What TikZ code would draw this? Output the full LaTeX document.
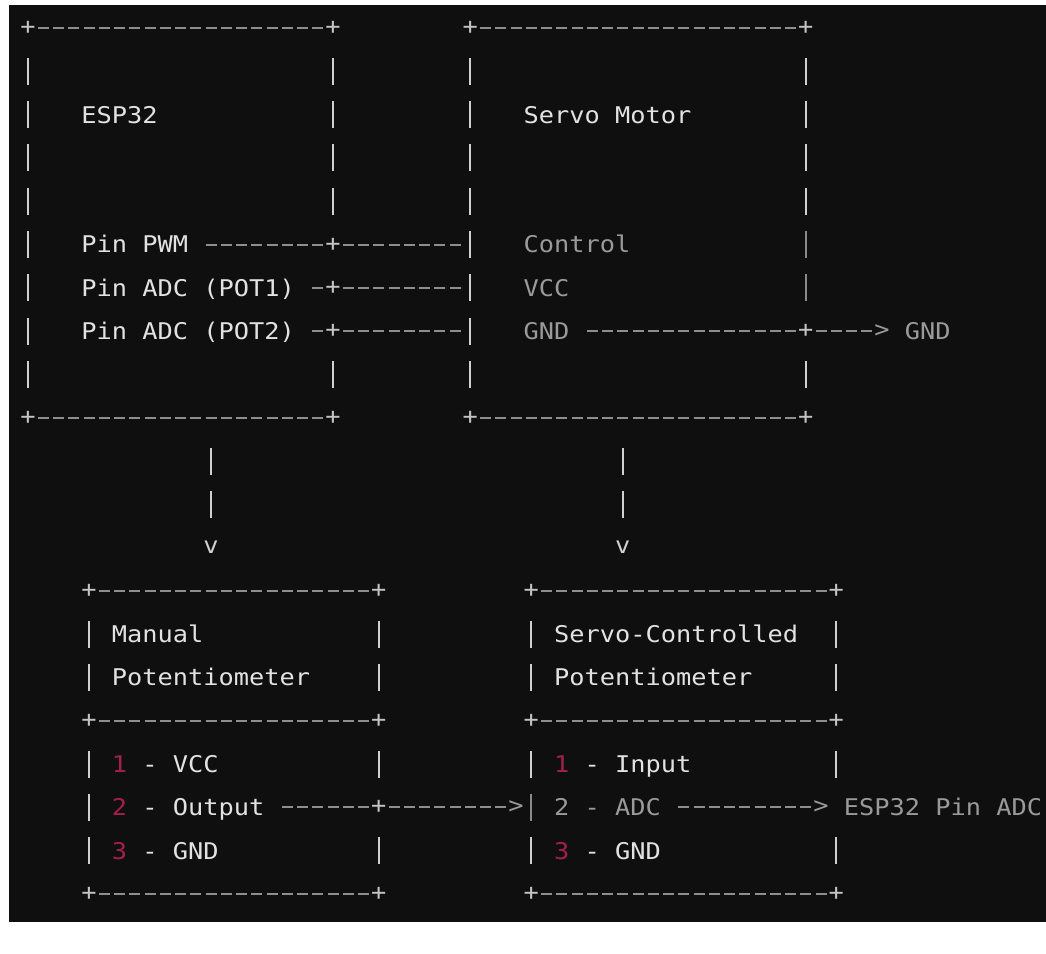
\documentclass[tikz,border=0pt]{standalone}
\usepackage{fontspec}
\newfontfamily\tfont{DejaVu Sans Mono}[FakeStretch=1.1013]
\newcommand\msp{\hspace*{15.25pt}}
\definecolor{bgc}{HTML}{0F0F0F}
\definecolor{hic}{HTML}{E2E2E2}
\definecolor{loc}{HTML}{9A9A9A}
\definecolor{barc}{HTML}{D0D0D0}
\definecolor{dbarc}{HTML}{8A8A8A}
\definecolor{dashc}{HTML}{8E8E8E}
\definecolor{plusc}{HTML}{C4C4C4}
\definecolor{numc}{HTML}{A3204C}
\tikzset{
  mono/.style={font=\tfont\fontsize{23}{28}\selectfont, inner sep=0pt, outer sep=0pt},
  txt/.style={mono, anchor=base west, yshift=-8.4pt, text=hic},
  dimtxt/.style={txt, text=loc},
  numtxt/.style={txt, text=numc},
  glyph/.style={mono, anchor=center, text=plusc},
  dimglyph/.style={glyph, text=loc},
  bar/.style={rectangle, fill=barc, minimum width=2.4pt, minimum height=27pt, inner sep=0pt, outer sep=0pt},
  dimbar/.style={bar, fill=dbarc},
  dsh/.style={draw=dashc, line width=2pt, dash pattern=on 11pt off 4.25pt},
}
\begin{document}
\begin{tikzpicture}[x=15.25pt,y=-43.3pt]
\fill[white] (-1.83607,-0.64665) rectangle (66.7541,21.3626);
\useasboundingbox (-1.83607,-0.64665) rectangle (66.7541,21.3626);
\fill[bgc] (-1.2459,-0.5312) rectangle (66.7541,20.6467);

% ---------------- ESP32 box
\node[glyph] (etl) at (0,0) {+};
\node[glyph] (etr) at (20,0) {+};
\node[glyph] (ebl) at (0,9) {+};
\node[glyph] (ebr) at (20,9) {+};
\foreach \r in {1,...,8} \node[bar] (el\r) at (0,\r) {};
\foreach \r in {1,2,3,4,8} \node[bar] (er\r) at (20,\r) {};
\foreach \r in {5,6,7} \node[glyph] (ej\r) at (20,\r) {+};
\draw[dsh] ([xshift=9.75pt]etl.center) -- ([xshift=-9.75pt]etr.center);
\draw[dsh] ([xshift=9.75pt]ebl.center) -- ([xshift=-9.75pt]ebr.center);
\node[txt] (esp) at (3.5,2) {ESP32};
\node[txt] (pwm) at (3.5,5) {Pin\msp PWM};
\node[txt] (pot1) at (3.5,6) {Pin\msp ADC\msp (POT1)};
\node[txt] (pot2) at (3.5,7) {Pin\msp ADC\msp (POT2)};

% ---------------- Servo box
\node[glyph] (stl) at (29,0) {+};
\node[glyph] (str) at (51,0) {+};
\node[glyph] (sbl) at (29,9) {+};
\node[glyph] (sbr) at (51,9) {+};
\foreach \r in {1,...,8} \node[bar] (sl\r) at (29,\r) {};
\foreach \r in {1,2,3,4,8} \node[bar] (sr\r) at (51,\r) {};
\foreach \r in {5,6} \node[dimbar] (sr\r) at (51,\r) {};
\node[glyph] (sj7) at (51,7) {+};
\draw[dsh] ([xshift=9.75pt]stl.center) -- ([xshift=-9.75pt]str.center);
\draw[dsh] ([xshift=9.75pt]sbl.center) -- ([xshift=-9.75pt]sbr.center);
\node[txt] (servo) at (32.5,2) {Servo\msp Motor};
\node[dimtxt] (ctrl) at (32.5,5) {Control};
\node[dimtxt] (vcc) at (32.5,6) {VCC};
\node[dimtxt] (gnd) at (32.5,7) {GND};
\node[dimglyph] (gndarr) at (56,7) {>};
\node[dimtxt] (gndout) at (57.5,7) {GND};

% ---------------- wires between ESP32 and servo
\coordinate (pwmS) at (11.6393,5);
\draw[dsh] (pwmS) -- ([xshift=-9.75pt]ej5.center);
\draw[dsh] ([xshift=9.75pt]ej5.center) -- ([xshift=-9.75pt]sl5.center);
\coordinate (p1S) at (18.6393,6);
\draw[dsh] (p1S) -- ([xshift=-9.75pt]ej6.center);
\draw[dsh] ([xshift=9.75pt]ej6.center) -- ([xshift=-9.75pt]sl6.center);
\coordinate (p2S) at (18.6393,7);
\draw[dsh] (p2S) -- ([xshift=-9.75pt]ej7.center);
\draw[dsh] ([xshift=9.75pt]ej7.center) -- ([xshift=-9.75pt]sl7.center);
\coordinate (gS) at (36.6393,7);
\draw[dsh] (gS) -- ([xshift=-9.75pt]sj7.center);
\draw[dsh] ([xshift=9.75pt]sj7.center) -- ([xshift=-9.75pt]gndarr.center);

% ---------------- down arrows
\node[bar] (da1) at (12,10) {};
\node[bar] (da2) at (12,11) {};
\node[glyph, text=barc] (dav) at (12,12) {v};
\node[bar] (db1) at (39,10) {};
\node[bar] (db2) at (39,11) {};
\node[glyph, text=barc] (dbv) at (39,12) {v};

% ---------------- Manual potentiometer box
\node[glyph] (mtl) at (4,13) {+};
\node[glyph] (mtr) at (23,13) {+};
\node[glyph] (mml) at (4,16) {+};
\node[glyph] (mmr) at (23,16) {+};
\node[glyph] (mbl) at (4,20) {+};
\node[glyph] (mbr) at (23,20) {+};
\foreach \r in {14,15,17,18,19} \node[bar] (ml\r) at (4,\r) {};
\foreach \r in {14,15,17,19} \node[bar] (mr\r) at (23,\r) {};
\node[glyph] (mj18) at (23,18) {+};
\draw[dsh] ([xshift=9.75pt]mtl.center) -- ([xshift=-9.75pt]mtr.center);
\draw[dsh] ([xshift=9.75pt]mml.center) -- ([xshift=-9.75pt]mmr.center);
\draw[dsh] ([xshift=9.75pt]mbl.center) -- ([xshift=-9.75pt]mbr.center);
\node[txt] (man) at (5.5,14) {Manual};
\node[txt] (manp) at (5.5,15) {Potentiometer};
\node[numtxt] (mn1) at (5.5,17) {1};
\node[txt] (mvcc) at (7.5,17) {-\msp VCC};
\node[numtxt] (mn2) at (5.5,18) {2};
\node[txt] (mout) at (7.5,18) {-\msp Output};
\node[numtxt] (mn3) at (5.5,19) {3};
\node[txt] (mgnd) at (7.5,19) {-\msp GND};

% ---------------- Servo-controlled potentiometer box
\node[glyph] (ptl) at (33,13) {+};
\node[glyph] (ptr) at (53,13) {+};
\node[glyph] (pml) at (33,16) {+};
\node[glyph] (pmr) at (53,16) {+};
\node[glyph] (pbl) at (33,20) {+};
\node[glyph] (pbr) at (53,20) {+};
\foreach \r in {14,15,17,19} \node[bar] (pl\r) at (33,\r) {};
\node[dimbar] (pl18) at (33,18) {};
\foreach \r in {14,15,17,19} \node[bar] (pr\r) at (53,\r) {};
\draw[dsh] ([xshift=9.75pt]ptl.center) -- ([xshift=-9.75pt]ptr.center);
\draw[dsh] ([xshift=9.75pt]pml.center) -- ([xshift=-9.75pt]pmr.center);
\draw[dsh] ([xshift=9.75pt]pbl.center) -- ([xshift=-9.75pt]pbr.center);
\node[txt] (sc) at (34.5,14) {Servo-Controlled};
\node[txt] (scp) at (34.5,15) {Potentiometer};
\node[numtxt] (pn1) at (34.5,17) {1};
\node[txt] (pin) at (36.5,17) {-\msp Input};
\node[dimtxt] (padc) at (34.5,18) {2\msp -\msp ADC};
\node[numtxt] (pn3) at (34.5,19) {3};
\node[txt] (pgnd) at (36.5,19) {-\msp GND};

% ---------------- output wires
\coordinate (oS) at (16.6393,18);
\node[dimglyph] (oarr) at (32,18) {>};
\draw[dsh] (oS) -- ([xshift=-9.75pt]mj18.center);
\draw[dsh] ([xshift=9.75pt]mj18.center) -- ([xshift=-9.75pt]oarr.center);
\coordinate (aS) at (42.6393,18);
\node[dimglyph] (aarr) at (52,18) {>};
\draw[dsh] (aS) -- ([xshift=-9.75pt]aarr.center);
\node[dimtxt] (espadc) at (53.5,18) {ESP32\msp Pin\msp ADC};
\end{tikzpicture}
\end{document}
